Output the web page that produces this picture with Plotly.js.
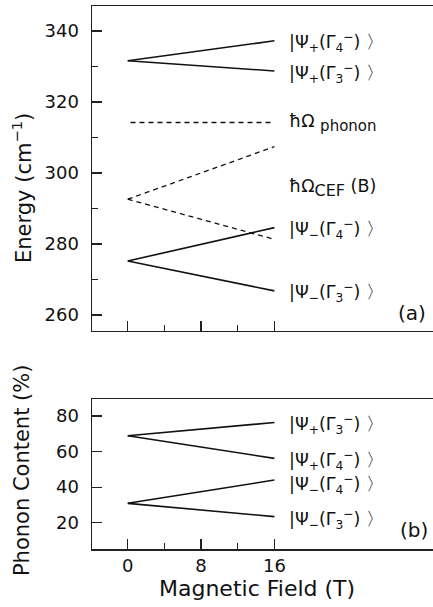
<!DOCTYPE html>
<html>
<head>
<meta charset="utf-8">
<script src="https://cdn.plot.ly/plotly-3.0.1.min.js"></script>
<style>html,body{margin:0;padding:0;background:#fff;}</style>
</head>
<body>
<div id="chart" style="width:433px;height:607px;"></div>
<script>
// Magnetic field (T)
const fields = [0, 16];
const fieldsPhonon = [0.3, 16];
// Panel (a): energies (cm^-1)
const E_psiPlus_G4 = [331.6, 337.2];
const E_psiPlus_G3 = [331.6, 328.7];
const E_phonon = [314.2, 314.2];
const E_cef_up = [292.6, 307.4];
const E_cef_down = [292.6, 281.3];
const E_psiMinus_G4 = [275.2, 284.6];
const E_psiMinus_G3 = [275.2, 266.8];
// Panel (b): phonon content (%)
const P_psiPlus_G3 = [68.9, 76.4];
const P_psiPlus_G4 = [68.9, 56.2];
const P_psiMinus_G4 = [30.9, 44.0];
const P_psiMinus_G3 = [30.9, 23.4];

// Labels
const labelsA = [
  {text: '|Ψ<sub>+</sub>(Γ<sub>4</sub><sup>−</sup>) 〉', y: 336.8},
  {text: '|Ψ<sub>+</sub>(Γ<sub>3</sub><sup>−</sup>) 〉', y: 327.9},
  {text: 'ħΩ <sub><span style="font-size:15px">phonon</span></sub>', y: 314.2},
  {text: 'ħΩ<sub><span style="font-size:16px">CEF</span></sub> (B)', y: 295.8},
  {text: '|Ψ<sub>−</sub>(Γ<sub>4</sub><sup>−</sup>) 〉', y: 284.2},
  {text: '|Ψ<sub>−</sub>(Γ<sub>3</sub><sup>−</sup>) 〉', y: 266.2}
];
const labelsB = [
  {text: '|Ψ<sub>+</sub>(Γ<sub>3</sub><sup>−</sup>) 〉', y: 75.5},
  {text: '|Ψ<sub>+</sub>(Γ<sub>4</sub><sup>−</sup>) 〉', y: 55.0},
  {text: '|Ψ<sub>−</sub>(Γ<sub>4</sub><sup>−</sup>) 〉', y: 41.7},
  {text: '|Ψ<sub>−</sub>(Γ<sub>3</sub><sup>−</sup>) 〉', y: 21.6}
];

const ink = '#111';
const solid = {color: ink, width: 1.6};
const dashed = {color: ink, width: 1.3, dash: '5px,4px'};
function tr(x, y, line, xa, ya) {
  return {x: x, y: y, type: 'scatter', mode: 'lines', line: line, xaxis: xa, yaxis: ya, hoverinfo: 'skip', showlegend: false};
}
const data = [
  tr(fields, E_psiPlus_G4, solid, 'x', 'y'),
  tr(fields, E_psiPlus_G3, solid, 'x', 'y'),
  tr(fieldsPhonon, E_phonon, dashed, 'x', 'y'),
  tr(fields, E_cef_up, dashed, 'x', 'y'),
  tr(fields, E_cef_down, dashed, 'x', 'y'),
  tr(fields, E_psiMinus_G4, solid, 'x', 'y'),
  tr(fields, E_psiMinus_G3, solid, 'x', 'y'),
  tr(fields, P_psiPlus_G3, solid, 'x2', 'y2'),
  tr(fields, P_psiPlus_G4, solid, 'x2', 'y2'),
  tr(fields, P_psiMinus_G4, solid, 'x2', 'y2'),
  tr(fields, P_psiMinus_G3, solid, 'x2', 'y2')
];

const fam = 'DejaVu Sans, Arial, sans-serif';
const font = {family: fam, color: ink};
const labelFont = {family: fam, color: ink, size: 17.5};

const annotations = [];
labelsA.forEach(l => annotations.push({xref: 'x', yref: 'y', x: 17.4, y: l.y, text: l.text, showarrow: false, xanchor: 'left', yanchor: 'middle', font: labelFont}));
labelsB.forEach(l => annotations.push({xref: 'x2', yref: 'y2', x: 17.4, y: l.y, text: l.text, showarrow: false, xanchor: 'left', yanchor: 'middle', font: labelFont}));
annotations.push({xref: 'paper', yref: 'y', x: 0.985, y: 260.6, text: '(a)', showarrow: false, xanchor: 'right', yanchor: 'middle', font: Object.assign({}, font, {size: 20})});
annotations.push({xref: 'paper', yref: 'y2', x: 0.992, y: 15.9, text: '(b)', showarrow: false, xanchor: 'right', yanchor: 'middle', font: Object.assign({}, font, {size: 20})});
annotations.push({xref: 'paper', yref: 'paper', x: -0.205, y: 0.665, text: 'Energy (cm<sup>−1</sup>)', textangle: -90, showarrow: false, xanchor: 'center', yanchor: 'middle', font: Object.assign({}, font, {size: 21})});
annotations.push({xref: 'paper', yref: 'paper', x: -0.205, y: 0.1455, text: 'Phonon Content (%)', textangle: -90, showarrow: false, xanchor: 'center', yanchor: 'middle', font: Object.assign({}, font, {size: 21})});
annotations.push({xref: 'paper', yref: 'paper', x: 0.4853, y: -0.073, text: 'Magnetic Field (T)', showarrow: false, xanchor: 'center', yanchor: 'middle', font: Object.assign({}, font, {size: 22})});

const axCommon = {
  showline: true, linecolor: '#222', linewidth: 1.5, showgrid: false, zeroline: false,
  ticks: 'inside', ticklen: 10, tickwidth: 1.3, tickcolor: '#222',
  tickfont: Object.assign({}, font, {size: 18}), fixedrange: true
};

const layout = {
  width: 433, height: 607,
  margin: {l: 92, r: 0, t: 6, b: 58},
  paper_bgcolor: '#fff', plot_bgcolor: '#fff',
  showlegend: false,
  font: font,
  xaxis: Object.assign({}, axCommon, {
    domain: [0, 1], anchor: 'y', range: [-3.9, 33.3], mirror: true,
    tickvals: [0, 8, 16], showticklabels: false,
    minor: {tickvals: [4, 12], ticks: 'inside', ticklen: 6, tickwidth: 1.3, tickcolor: '#222'}
  }),
  yaxis: Object.assign({}, axCommon, {
    domain: [0.4015, 1], anchor: 'x', range: [255.5, 347],
    tickvals: [260, 280, 300, 320, 340], ticklabelstandoff: 8,
    minor: {tickvals: [270, 290, 310, 330], ticks: 'inside', ticklen: 6, tickwidth: 1.3, tickcolor: '#222'}
  }),
  xaxis2: Object.assign({}, axCommon, {
    domain: [0, 1], anchor: 'y2', range: [-3.9, 33.3], mirror: true,
    tickvals: [0, 8, 16], ticktext: ['0', '8', '16'], ticklabelstandoff: 0,
    minor: {tickvals: [4, 12], ticks: 'inside', ticklen: 6, tickwidth: 1.3, tickcolor: '#222'}
  }),
  yaxis2: Object.assign({}, axCommon, {
    domain: [0, 0.2762], anchor: 'x2', range: [5.2, 89.6],
    tickvals: [20, 40, 60, 80], ticklabelstandoff: 8
  }),
  annotations: annotations
};

Plotly.newPlot('chart', data, layout, {staticPlot: true, displayModeBar: false});
</script>
</body>
</html>
